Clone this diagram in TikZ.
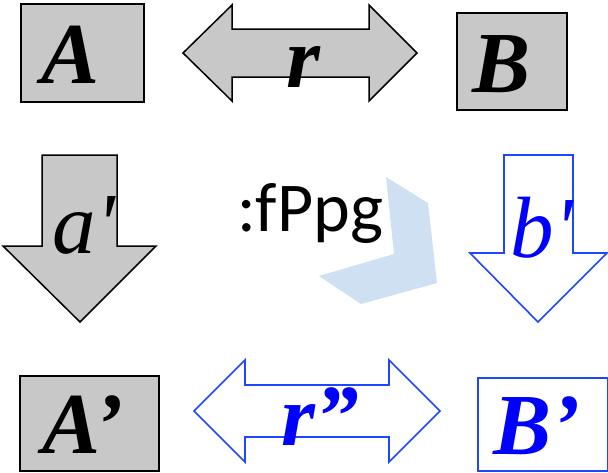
\documentclass[tikz,border=0pt]{standalone}
\usepackage{fontspec}
\setmainfont{Liberation Serif}
\newfontfamily\calfont{Carlito}
\definecolor{boxgray}{RGB}{200,200,200}
\definecolor{lineblue}{RGB}{30,70,255}
\definecolor{textblue}{RGB}{0,0,255}
\definecolor{chev}{RGB}{207,224,242}
\newcommand{\bigbi}{\fontsize{87}{87}\selectfont\bfseries\itshape}
\newcommand{\bigit}{\fontsize{87}{87}\selectfont\itshape}
\begin{document}
\begin{tikzpicture}[x=1pt,y=-1pt,
  graybox/.style={draw=black,fill=boxgray,line width=1.8pt,inner sep=0pt,anchor=north west},
  bluebox/.style={draw=lineblue,fill=white,line width=1.6pt,inner sep=0pt,anchor=north west},
  grayshape/.style={draw=black,fill=boxgray,line width=1.5pt,line join=miter},
  blueshape/.style={draw=lineblue,fill=white,line width=1.6pt,line join=miter},
  lbl/.style={anchor=base,inner sep=0pt}]
\useasboundingbox (0,0) rectangle (608,472);
% boxes
\node[graybox,minimum width=123pt,minimum height=98pt] (A) at (20,3) {};
\node[graybox,minimum width=110pt,minimum height=97pt] (B) at (456,12) {};
\node[graybox,minimum width=139pt,minimum height=95pt] (A2) at (19,375) {};
\node[bluebox,minimum width=130pt,minimum height=93pt] (B2) at (477,377) {};
% chevron
\fill[chev] (386,177) -- (428,203) -- (437,283) -- (361,304) -- (319,276) -- (394,254) -- cycle;
% double arrow r
\draw[grayshape] (183,53) -- (232,5) -- (232,29) -- (369,29) -- (369,5) -- (417,53)
  -- (369,101) -- (369,77) -- (232,77) -- (232,101) -- cycle;
% double arrow r''
\draw[blueshape] (194,411) -- (245,360) -- (245,385) -- (389,385) -- (389,360) -- (440,411)
  -- (389,462) -- (389,437) -- (245,437) -- (245,462) -- cycle;
% down arrow a'
\draw[grayshape] (42,155) -- (117,155) -- (117,246) -- (156,246) -- (80,322) -- (3,246)
  -- (42,246) -- cycle;
% down arrow b'
\draw[blueshape] (504,155) -- (573,155) -- (573,253) -- (607,253) -- (538,322) -- (470,253)
  -- (504,253) -- cycle;
% labels
\node[lbl] (tA) at (71,83) {\bigbi A};
\node[lbl] (tB) at (502,92) {\bigbi B};
\node[lbl] (tr) at (303,87) {\bigbi r};
\node[lbl] (ta) at (84,253) {\bigit a\textquotesingle};
\node[lbl,text=textblue] (tb) at (542,257) {\bigit b\textquotesingle};
\node[lbl] (tA2) at (83,453) {\bigbi A’};
\node[lbl,text=textblue] (tB2) at (537,454) {\bigbi B’};
\node[lbl,text=textblue] (tr2) at (320,445) {\bigbi r”};
\node[lbl] (tf) at (310,231) {\calfont\fontsize{70}{70}\selectfont :fPpg};
\end{tikzpicture}
\end{document}
